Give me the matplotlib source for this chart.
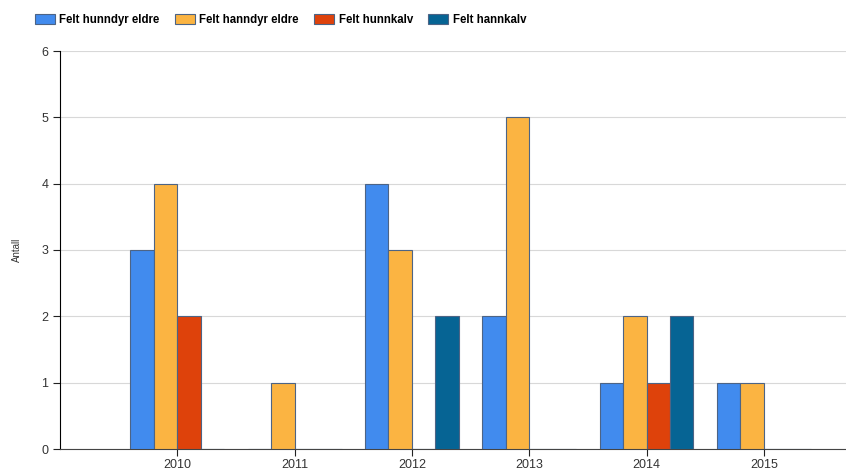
import matplotlib
matplotlib.use('Agg')
import matplotlib.pyplot as plt
import numpy as np

years = ['2010', '2011', '2012', '2013', '2014', '2015']
hunndyr = [3, 0, 4, 2, 1, 1]
hanndyr = [4, 1, 3, 5, 2, 1]
hunnkalv = [2, 0, 0, 0, 1, 0]
hannkalv = [0, 0, 2, 0, 2, 0]

series = [('Felt hunndyr eldre', hunndyr, '#418bee'),
          ('Felt hanndyr eldre', hanndyr, '#fbb442'),
          ('Felt hunnkalv', hunnkalv, '#de420b'),
          ('Felt hannkalv', hannkalv, '#066494')]

fig = plt.figure(figsize=(8.46, 4.71), dpi=100)
ax = fig.add_axes([60/846, 22/471, 786/846, 398/471])

x = np.arange(len(years))
w = 0.2
handles = []
for i, (name, vals, col) in enumerate(series):
    b = ax.bar(x + (i - 1.5) * w, vals, w, color=col, edgecolor='#4d6485',
               linewidth=0.8, label=name, zorder=3)
    handles.append(b)

ax.set_xlim(-1, 5.7)
ax.set_ylim(0, 6)
ax.set_xticks(x)
ax.set_xticklabels(years, fontsize=9, family='Liberation Sans', color='#333333')
ax.set_yticks(range(7))
ax.set_yticklabels([str(v) for v in range(7)], fontsize=9, family='Liberation Sans', color='#333333')
ax.grid(axis='y', color='#d8d8d8', linewidth=0.8, zorder=0)
for s in ['top', 'right']:
    ax.spines[s].set_visible(False)
ax.spines['left'].set_color('black')
ax.spines['bottom'].set_color('#444444')
ax.tick_params(axis='both', length=5, width=0.8, colors='#222222')
ax.tick_params(axis='x', pad=2)
ax.tick_params(axis='both', labelcolor='#333333')
ax.set_ylabel('Antall', fontsize=7, family='Liberation Sans', color='#333333', labelpad=14)

fig.legend(handles=handles, loc='upper left', bbox_to_anchor=(30/846 - 0.004, 1.0 - 6/471), ncol=4,
           frameon=False, prop={'family': 'Liberation Sans', 'weight': 'bold', 'size': 8.3},
           handlelength=1.75, handleheight=1.0, columnspacing=1.3, handletextpad=0.4,
           borderpad=0.2)

fig.savefig('out.png', dpi=100)
